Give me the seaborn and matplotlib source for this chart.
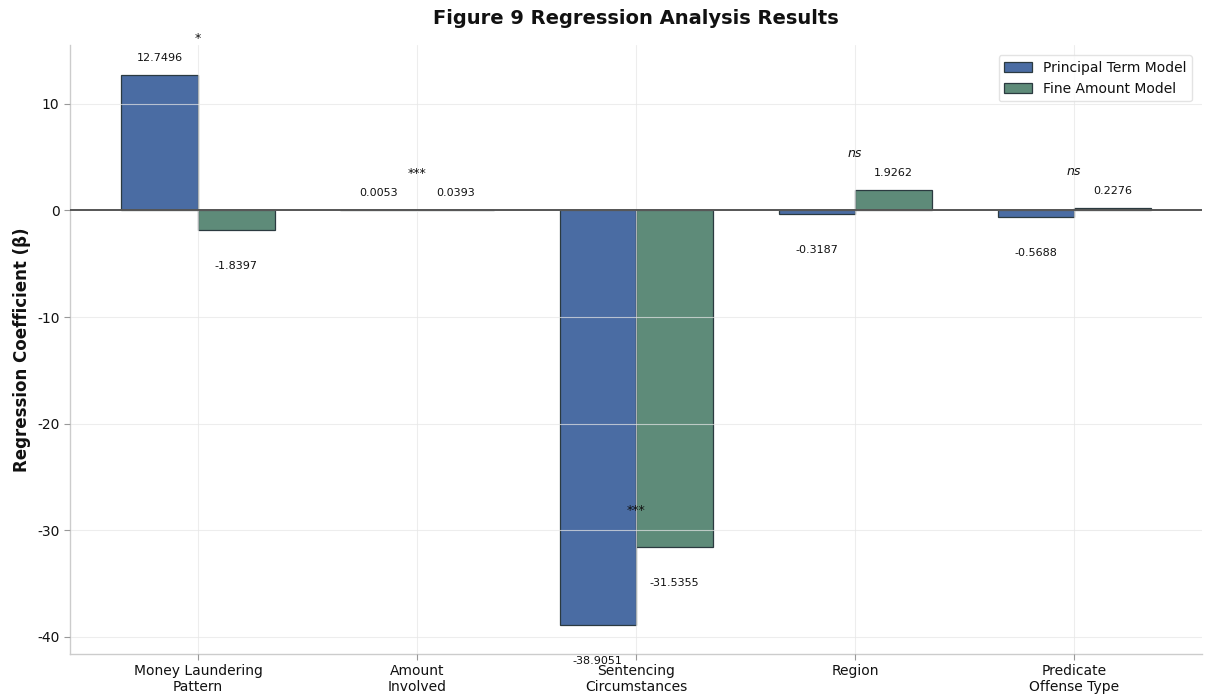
import matplotlib
matplotlib.use("Agg")
import matplotlib.pyplot as plt
import seaborn as sns
import pandas as pd

# Regression coefficients for each predictor under the two models
predictors = ["Money Laundering\nPattern", "Amount\nInvolved", "Sentencing\nCircumstances",
              "Region", "Predicate\nOffense Type"]
principal_term = [12.7496, 0.0053, -38.9051, -0.3187, -0.5688]
fine_amount = [-1.8397, 0.0393, -31.5355, 1.9262, 0.2276]
significance = ["*", "***", "***", "ns", "ns"]
models = ["Principal Term Model", "Fine Amount Model"]

df = pd.DataFrame({
    "Predictor": predictors * 2,
    "Coefficient": principal_term + fine_amount,
    "Model": [models[0]] * len(predictors) + [models[1]] * len(predictors),
})

sns.set_style("whitegrid")
plt.rcParams["font.family"] = ["DejaVu Sans"]
plt.rcParams["axes.unicode_minus"] = False
plt.rcParams["text.color"] = "#111111"
plt.rcParams["axes.labelcolor"] = "#111111"
plt.rcParams["xtick.color"] = "#111111"
plt.rcParams["ytick.color"] = "#111111"

fig = plt.figure(figsize=(12.06, 6.97), dpi=100)
ax = fig.add_axes([0.058, 0.062, 0.939, 0.873])

palette = {models[0]: "#4a6ca3", models[1]: "#5e8b79"}
sns.barplot(data=df, x="Predictor", y="Coefficient", hue="Model", order=predictors,
            hue_order=models, palette=palette, width=0.7, errorbar=None,
            edgecolor="#2b3a40", linewidth=0.9, saturation=1.0, ax=ax, zorder=1)

ax.axhline(0, color="#555555", linewidth=1.4, zorder=3)

# Value labels on each bar
for container in ax.containers:
    for bar in container:
        h = bar.get_height()
        x = bar.get_x() + bar.get_width() / 2
        y = h + 1.6 if h >= 0 else h - 3.4
        ax.text(x, y, f"{h:.4f}", ha="center", va="center", fontsize=8, color="#111111", zorder=4)

# Significance markers above each predictor
for i, sig in enumerate(significance):
    top = max(principal_term[i], fine_amount[i])
    ax.text(i, top + 3.4, sig, ha="center", va="center", fontsize=9,
            style="italic" if sig == "ns" else "normal", color="#111111", zorder=4)

ax.set_xlim(-0.585, 4.585)
ax.set_ylim(-41.6, 15.5)
ax.set_yticks([10, 0, -10, -20, -30, -40])

ax.set_axisbelow(False)
ax.grid(True, axis="both", color="#e6e6e6", linewidth=0.8, alpha=0.7)

ax.set_xlabel("")
ax.set_ylabel("Regression Coefficient (β)", fontsize=12, fontweight="bold")
ax.set_title("Figure 9 Regression Analysis Results", fontsize=14, fontweight="bold", pad=15)
ax.tick_params(axis="both", labelsize=10, length=4, color="#999999", direction="out",
               labelcolor="#111111")
ax.tick_params(axis="x", bottom=True)
ax.tick_params(axis="y", left=True)

for side in ["top", "right"]:
    ax.spines[side].set_visible(False)
for side in ["left", "bottom"]:
    ax.spines[side].set_color("#cccccc")
    ax.spines[side].set_linewidth(1.0)

leg = ax.legend(loc="upper right", fontsize=10, frameon=True, title=None,
                bbox_to_anchor=(0.997, 0.995))
leg.get_frame().set_edgecolor("#dddddd")

fig.savefig("out.png", dpi=100)
